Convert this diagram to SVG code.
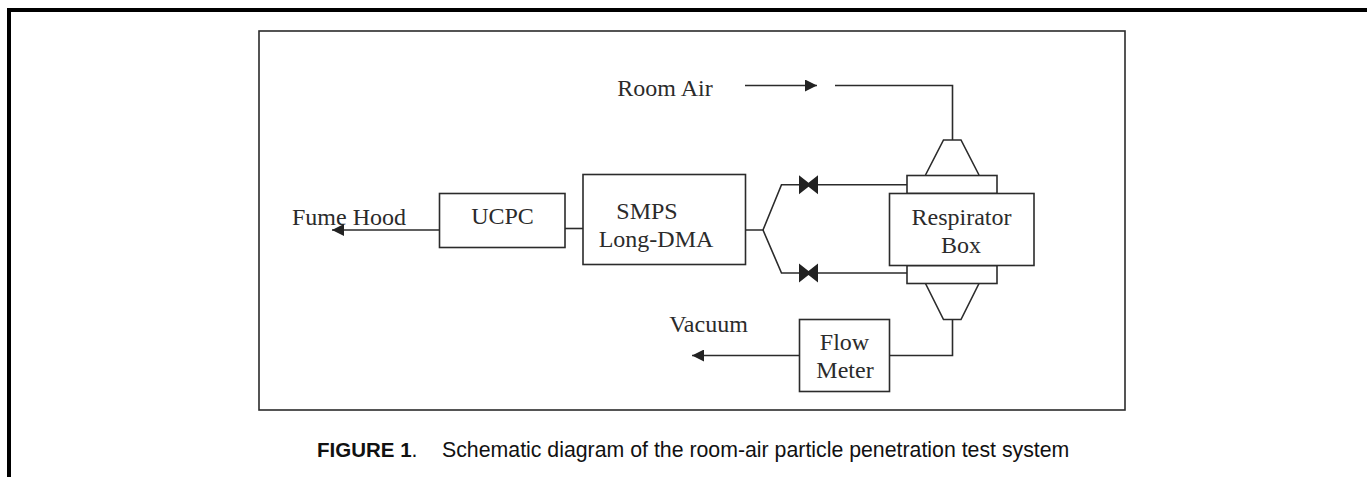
<svg xmlns="http://www.w3.org/2000/svg" width="1367" height="477" viewBox="0 0 1367 477">
<style>
.s{fill:none;stroke:#2b2b2b;stroke-width:1.6}
.b{fill:#fff;stroke:#2b2b2b;stroke-width:1.6}
.t{font-family:"Liberation Serif",serif;font-size:24px;fill:#2b2b2b;text-anchor:middle}
.c{font-family:"Liberation Sans",sans-serif;font-size:21.3px;fill:#111}
</style>
<defs>
<marker id="ah" markerUnits="userSpaceOnUse" markerWidth="13" markerHeight="12" refX="12" refY="6" orient="auto"><path d="M0 0L12 6L0 12Z" fill="#222"/></marker>
<path id="valve" d="M-9.500 -9.500L0 -2L9.500 -9.500V9.500L0 2L-9.500 9.500Z" fill="#222"/>
</defs>
<path d="M9 477V10H1367" fill="none" stroke="#000" stroke-width="4"/>
<rect id="frame" x="259" y="31" width="866" height="379" class="s"/>
<g id="connectors">
<path class="s" d="M745 85.500H817" marker-end="url(#ah)"/>
<path class="s" d="M835 85.500H952.500V140"/>
<path class="s" d="M952.500 319.500V355.500H889.500"/>
<path class="s" d="M799 355.500H692" marker-end="url(#ah)"/>
<path class="s" d="M439.500 230H332" marker-end="url(#ah)"/>
<path class="s" d="M565 228.500H583"/>
<path class="s" d="M745.500 230H763L781.500 184.700H907"/>
<path class="s" d="M763 230L781.500 273H907"/>
<use href="#valve" x="808.500" y="184.700"/>
<use href="#valve" x="808.500" y="273"/>
</g>
<g id="top-nozzle"><path class="s" d="M925.500 175L943.500 140H961L979 175"/></g>
<g id="bottom-nozzle"><path class="s" d="M925.500 283.500L943.500 319.500H961L979 283.500"/></g>
<g id="top-collar"><rect class="b" x="907" y="175.500" width="90" height="18"/></g>
<g id="bottom-collar"><rect class="b" x="907" y="265.500" width="90" height="18"/></g>
<g id="respirator-box"><rect class="b" x="889.500" y="193.500" width="144.500" height="72"/><text class="t" x="961.500" y="225">Respirator</text><text class="t" x="961" y="253">Box</text></g>
<g id="flow-meter"><rect class="b" x="799.500" y="319.500" width="90" height="72"/><text class="t" x="844.500" y="350">Flow</text><text class="t" x="845" y="378">Meter</text></g>
<g id="smps"><rect class="b" x="583" y="174.500" width="162.500" height="90"/><text class="t" x="647" y="219">SMPS</text><text class="t" x="656" y="247">Long-DMA</text></g>
<g id="ucpc"><rect class="b" x="439.500" y="193.500" width="125.500" height="54"/><text class="t" x="502.500" y="224">UCPC</text></g>
<g id="labels">
<text class="t" x="349" y="225">Fume Hood</text>
<text class="t" x="665" y="96">Room Air</text>
<text class="t" x="708.500" y="332" font-size="25">Vacuum</text>
</g>
<text class="c" x="317" y="457"><tspan font-weight="bold" font-size="20.5">FIGURE 1</tspan>.<tspan x="442">Schematic diagram of the room-air particle penetration test system</tspan></text>
</svg>
